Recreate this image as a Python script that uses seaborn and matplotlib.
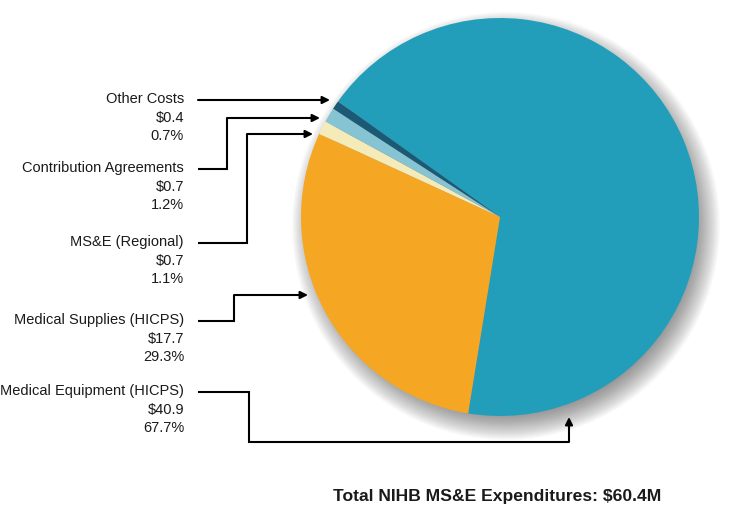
import matplotlib.pyplot as plt
import seaborn as sns
from matplotlib.patches import Circle

# data
categories = [
    "Medical Equipment (HICPS)",
    "Medical Supplies (HICPS)",
    "MS&E (Regional)",
    "Contribution Agreements",
    "Other Costs",
]
amounts = [40.9, 17.7, 0.7, 0.7, 0.4]
percents = [67.7, 29.3, 1.1, 1.2, 0.7]
total_label = "Total NIHB MS&E Expenditures: $60.4M"

colors = ["#229EBB", "#F5A623", "#F4EBB8", "#86C4D3", "#1B5A75"]

# layout, in pixels from the top-left corner of the 750x508 picture
W, H = 750, 508
pie_center = (500, 217)
pie_radius = 199
label_right = 184
connectors = [
    [(198, 392), (249, 392), (249, 442), (569, 442), (569, 417)],
    [(198, 321), (234, 321), (234, 295), (308, 295)],
    [(198, 243), (247, 243), (247, 134), (313, 134)],
    [(198, 169), (227, 169), (227, 118), (320, 118)],
    [(198, 100), (330, 100)],
]


def py(y):
    # pixel row -> data y (axes are not inverted so pie angles stay normal)
    return H - y


sns.set_theme(style="white")
plt.rcParams['font.family'] = ['Liberation Sans', 'DejaVu Sans']

fig = plt.figure(figsize=(W / 100, H / 100), dpi=100)
ax = fig.add_axes([0, 0, 1, 1])

# soft drop shadow, offset towards the lower right
cx, cy = pie_center
for i in range(32):
    r = pie_radius + 15 - i
    ax.add_patch(Circle((cx + 6, py(cy + 9)), r, color="#333333",
                        alpha=0.022, lw=0, zorder=0.5))

ax.pie(
    percents,
    colors=colors,
    startangle=144.5,
    counterclock=False,
    center=(cx, py(cy)),
    radius=pie_radius,
    wedgeprops=dict(linewidth=0),
)

# labels and elbow connectors
for cat, amt, pct, path in zip(categories, amounts, percents, connectors):
    x0, y0 = path[0]
    ax.text(label_right, py(y0 - 8), f"{cat}\n\\${amt:.1f}\n{pct:.1f}%",
            ha="right", va="top", fontsize=10.5, linespacing=1.42,
            color="#1a1a1a")
    xs = [p[0] for p in path[:-1]]
    ys = [py(p[1]) for p in path[:-1]]
    ax.plot(xs, ys, color="black", lw=1.5, solid_joinstyle="miter",
            solid_capstyle="butt")
    ax.annotate("", xy=(path[-1][0], py(path[-1][1])),
                xytext=(path[-2][0], py(path[-2][1])),
                arrowprops=dict(arrowstyle="-|>", color="black", lw=1.5,
                                shrinkA=0, shrinkB=0, mutation_scale=11))

ax.text(497, py(496), total_label.replace("$", "\\$"), ha="center",
        va="center", fontsize=12.6, fontweight="bold", color="#1a1a1a")

ax.set_xlim(0, W)
ax.set_ylim(0, H)
ax.set_aspect("equal")
ax.axis("off")

fig.savefig("out.png", dpi=100)
